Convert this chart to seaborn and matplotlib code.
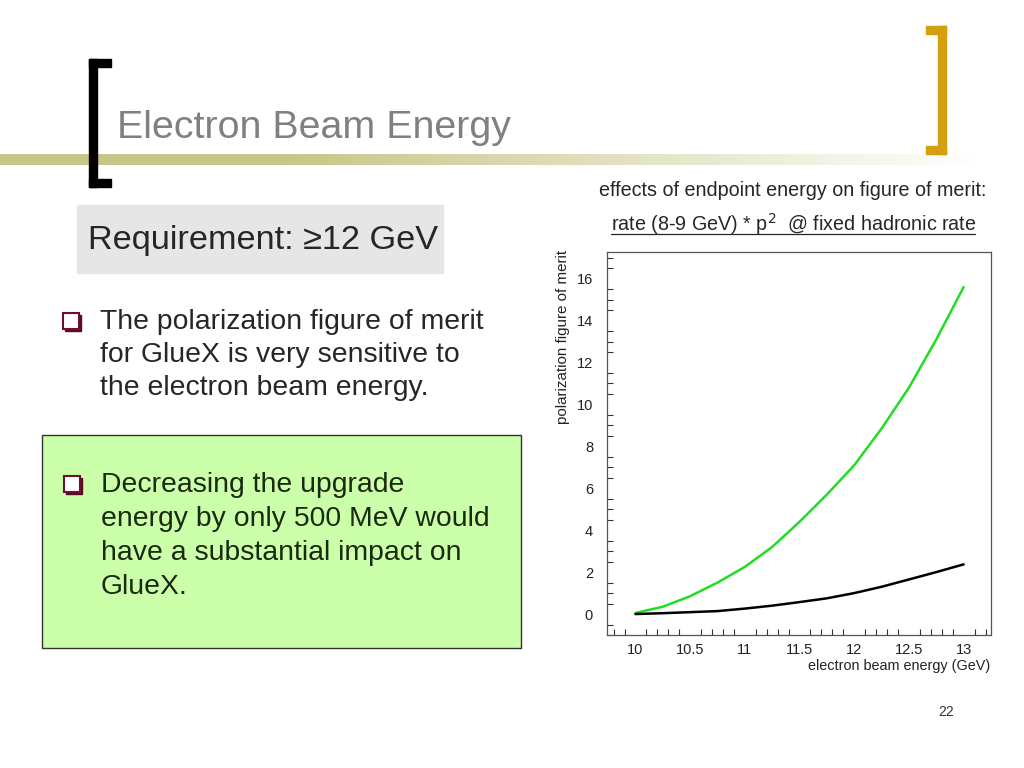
import numpy as np
import pandas as pd
import matplotlib
matplotlib.use("Agg")
import matplotlib.pyplot as plt
import seaborn as sns
from matplotlib.patches import Rectangle
from matplotlib.ticker import MultipleLocator

# data
energy = [10.0, 10.25, 10.5, 10.75, 11.0, 11.25, 11.5, 11.75, 12.0, 12.25, 12.5, 12.75, 13.0]
fom_green = [0.05, 0.35, 0.85, 1.5, 2.25, 3.2, 4.4, 5.7, 7.1, 8.85, 10.8, 13.1, 15.6]
fom_black = [0.0, 0.04, 0.09, 0.14, 0.26, 0.4, 0.57, 0.75, 1.0, 1.3, 1.65, 2.0, 2.37]

x_ticks = [10, 10.5, 11, 11.5, 12, 12.5, 13]
y_ticks = [0, 2, 4, 6, 8, 10, 12, 14, 16]

df = pd.DataFrame({
    "energy": energy * 2,
    "fom": fom_green + fom_black,
    "curve": ["green"] * len(energy) + ["black"] * len(energy),
})

sns.set_style("white")
plt.rcParams["font.family"] = ["Liberation Sans", "DejaVu Sans"]

fig = plt.figure(figsize=(10.24, 7.68), dpi=100)

# slide background layer in pixel coordinates
bg = fig.add_axes([0, 0, 1, 1])
bg.set_xlim(0, 1024)
bg.set_ylim(768, 0)
bg.axis("off")

# gradient bar under the title
grad = np.ones((1, 1024, 4))
grad[..., 0] = 198 / 255
grad[..., 1] = 198 / 255
grad[..., 2] = 135 / 255
xs = np.arange(1024)
grad[0, :, 3] = np.clip((980 - xs) / 700, 0, 1)
bg.imshow(grad, extent=(0, 1024, 165, 154), aspect="auto", zorder=1)

# brackets
bg.add_patch(Rectangle((89, 59), 8, 128, color="black", zorder=2))
bg.add_patch(Rectangle((89, 59), 22, 8, color="black", zorder=2))
bg.add_patch(Rectangle((89, 179), 22, 8, color="black", zorder=2))
gold = "#d4a010"
bg.add_patch(Rectangle((938, 26), 8, 128, color=gold, zorder=2))
bg.add_patch(Rectangle((926, 26), 20, 8, color=gold, zorder=2))
bg.add_patch(Rectangle((926, 146), 20, 8, color=gold, zorder=2))

bg.text(117, 128, "Electron Beam Energy", fontsize=28.4, color="#808080",
        va="center", ha="left", zorder=3)

# requirement box
bg.add_patch(Rectangle((77, 205), 366, 68, color="#e6e6e6", zorder=1))
bg.text(88, 240, "Requirement: \u226512 GeV", fontsize=24.7, color="#262626",
        va="center", ha="left", zorder=3)


def bullet(x, y):
    bg.add_patch(Rectangle((x + 2, y + 2), 16, 16, color="#5a0a28", zorder=3))
    bg.add_patch(Rectangle((x, y), 16, 16, facecolor="white",
                           edgecolor="#6b1030", lw=1.5, zorder=4))


bullet(63, 313)
lines1 = ["The polarization figure of merit", "for GlueX is very sensitive to",
          "the electron beam energy."]
for i, t in enumerate(lines1):
    bg.text(100, 322 + i * 33, t, fontsize=20.4, color="#262626",
            va="center", ha="left", zorder=3)

# green box
bg.add_patch(Rectangle((42, 435), 479, 213, facecolor="#ccffaa",
                       edgecolor="#333333", lw=1, zorder=1))
bullet(64, 476)
lines2 = ["Decreasing the upgrade", "energy by only 500 MeV would",
          "have a substantial impact on", "GlueX."]
for i, t in enumerate(lines2):
    bg.text(101, 485 + i * 34, t, fontsize=20.4, color="#1a2a10",
            va="center", ha="left", zorder=3)

# plot captions
bg.text(793, 190, "effects of endpoint energy on figure of merit:", fontsize=14.2,
        color="#262626", ha="center", va="center")
cap2 = bg.text(611, 224, "rate (8-9 GeV) * p$^2$  @ fixed hadronic rate", fontsize=14.2,
               color="#262626", ha="left", va="center")
bg.plot([611, 975], [234, 234], color="#262626", lw=0.9)

bg.text(946, 712, "22", fontsize=10, color="#333333", ha="center", va="center")

# the chart itself
ax = fig.add_axes([607 / 1024, 1 - 635 / 768, 384 / 1024, 383 / 768])
sns.lineplot(data=df, x="energy", y="fom", hue="curve",
             palette={"green": "#22dd22", "black": "black"},
             linewidth=1.8, legend=False, ax=ax)
ax.set_xlim(9.74, 13.25)
ax.set_ylim(-1.0, 17.27)
ax.set_xticks(x_ticks)
ax.set_xticklabels([f"{v:g}" for v in x_ticks])
ax.set_yticks(y_ticks)
ax.xaxis.set_minor_locator(MultipleLocator(0.1))
ax.yaxis.set_minor_locator(MultipleLocator(0.5))
ax.tick_params(which="major", direction="in", length=8, width=0.8,
               labelsize=10.5, color="#333333", labelcolor="#222222")
ax.tick_params(which="minor", direction="in", length=4, width=0.8,
               color="#333333", bottom=True, left=True)
ax.tick_params(axis="y", pad=10)
ax.tick_params(axis="x", pad=6)
for s in ax.spines.values():
    s.set_color("#555555")
    s.set_linewidth(0.9)
ax.set_xlabel("")
ax.set_ylabel("")

fig.text(990 / 1024, 1 - 666 / 768, "electron beam energy (GeV)", fontsize=10.4,
         ha="right", va="center", color="#222222")
fig.text(563 / 1024, 1 - 250 / 768, "polarization figure of merit", fontsize=10.9,
         rotation=90, ha="center", va="top", color="#222222")

fig.savefig("out.png", dpi=100)
